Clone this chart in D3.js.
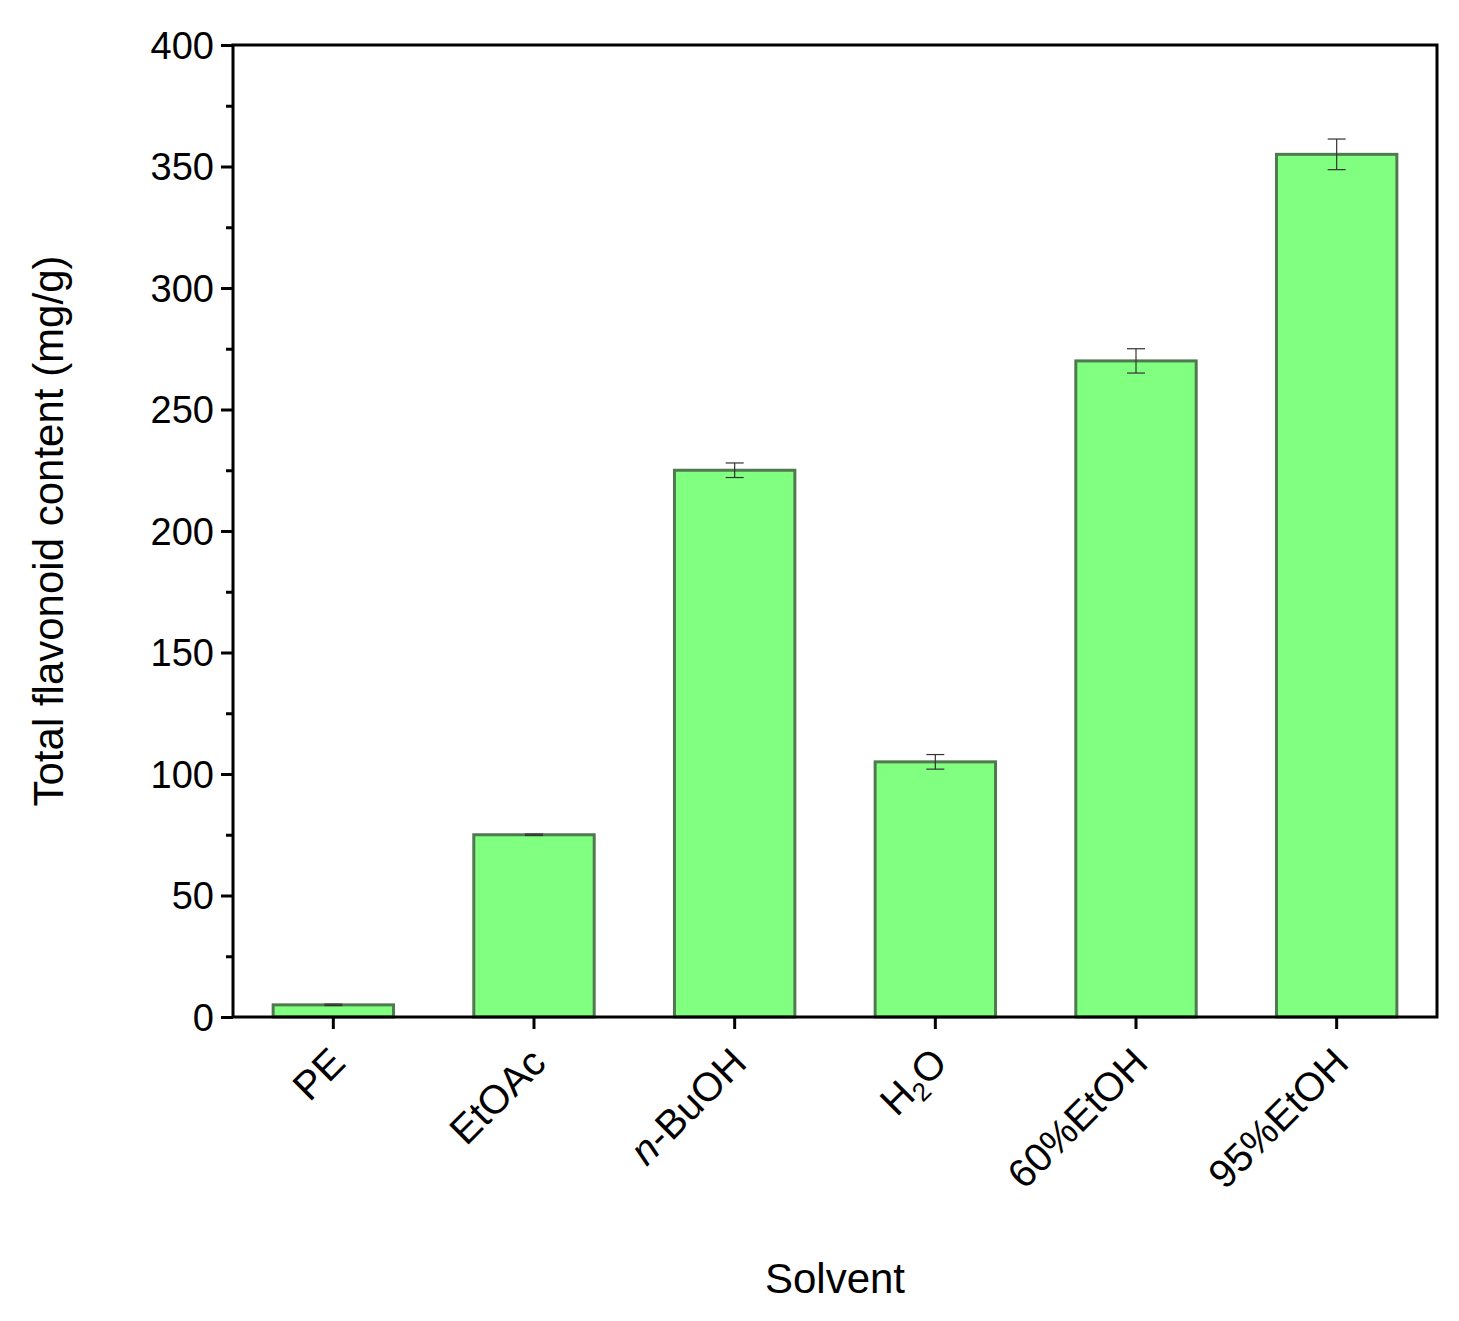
<!DOCTYPE html>
<html><head><meta charset="utf-8">
<script src="https://cdn.jsdelivr.net/npm/d3@7"></script>
<style>body{margin:0;background:#fff}text{font-family:Arial,"Liberation Sans",sans-serif}</style>
</head><body><svg id="c" width="1459" height="1321"></svg>
<script>
var solvents = ["PE","EtOAc","n-BuOH","H2O","60%EtOH","95%EtOH"];
var contents = [5, 75, 225, 105, 270, 355];
var errors = [0.3, 0.3, 3, 3, 5, 6.3];
var yTicks = [0,50,100,150,200,250,300,350,400];

var svg = d3.select("#c");
var m = {l:233, t:45, r:1437, b:1017};
var x = d3.scaleBand().domain(solvents).range([m.l, m.r]).paddingInner(0.4).paddingOuter(0.2);
var y = d3.scaleLinear().domain([0,400]).range([m.b, m.t]);

var g = svg.append("g");
g.selectAll("rect.bar").data(solvents).enter().append("rect")
  .attr("x", function(d){return x(d);})
  .attr("width", x.bandwidth())
  .attr("y", function(d,i){return y(contents[i]);})
  .attr("height", function(d,i){return m.b - y(contents[i]);})
  .attr("fill","#80ff80").attr("stroke","#4f7a4f").attr("stroke-width",3);

var eb = g.selectAll("g.err").data(solvents).enter().append("g")
  .attr("stroke","#333").attr("stroke-width",1.2);
eb.append("line").attr("x1",function(d){return x(d)+x.bandwidth()/2;}).attr("x2",function(d){return x(d)+x.bandwidth()/2;})
  .attr("y1",function(d,i){return y(contents[i]+errors[i]);}).attr("y2",function(d,i){return y(contents[i]-errors[i]);});
[1,-1].forEach(function(s){
  eb.append("line").attr("x1",function(d){return x(d)+x.bandwidth()/2-9;}).attr("x2",function(d){return x(d)+x.bandwidth()/2+9;})
    .attr("y1",function(d,i){return y(contents[i]+s*errors[i]);}).attr("y2",function(d,i){return y(contents[i]+s*errors[i]);});
});

// frame
svg.append("rect").attr("x",m.l).attr("y",m.t).attr("width",m.r-m.l).attr("height",m.b-m.t)
  .attr("fill","none").attr("stroke","#000").attr("stroke-width",3);

// y axis
var ya = svg.append("g").attr("transform","translate("+m.l+",0)")
  .call(d3.axisLeft(y).tickValues(yTicks).tickSize(12).tickSizeOuter(0));
ya.select(".domain").remove();
ya.selectAll("line").attr("stroke-width",3);
ya.selectAll("text").attr("font-size",38).attr("dx",-4).attr("dy","0.35em");
svg.append("g").attr("transform","translate("+m.l+",0)")
  .call(d3.axisLeft(y).tickValues(d3.range(25,400,50)).tickSize(7).tickFormat(""))
  .call(function(a){a.select(".domain").remove(); a.selectAll("line").attr("stroke-width",3);});

// x axis
var xa = svg.append("g").attr("transform","translate(0,"+m.b+")")
  .call(d3.axisBottom(x).tickSize(12).tickSizeOuter(0).tickFormat(""));
xa.select(".domain").remove();
xa.selectAll("line").attr("stroke-width",3);
xa.selectAll(".tick").append("text")
  .attr("transform","translate(14,48) rotate(-45)")
  .attr("text-anchor","end").attr("font-size",40).attr("fill","#000")
  .each(function(d){
    var t = d3.select(this);
    if (d === "n-BuOH") { t.append("tspan").attr("font-style","italic").text("n"); t.append("tspan").text("-BuOH"); }
    else if (d === "H2O") { t.append("tspan").text("H"); t.append("tspan").attr("font-size",26).attr("dy",8).text("2"); t.append("tspan").attr("dy",-8).text("O"); }
    else t.text(d);
  });

svg.append("text").attr("x",(m.l+m.r)/2).attr("y",1293).attr("text-anchor","middle").attr("font-size",42).text("Solvent");
svg.append("text").attr("transform","translate(63,"+((m.t+m.b)/2)+") rotate(-90)").attr("text-anchor","middle").attr("font-size",42).text("Total flavonoid content (mg/g)");
</script></body></html>
